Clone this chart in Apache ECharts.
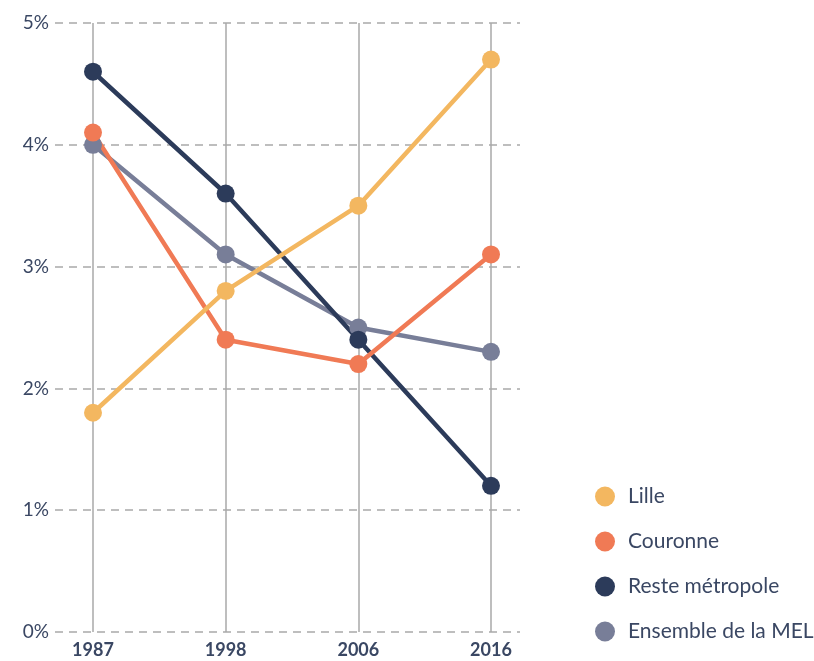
<!DOCTYPE html>
<html>
<head>
<meta charset="utf-8">
<script src="https://cdn.jsdelivr.net/npm/echarts@6/dist/echarts.min.js"></script>
<style>
  html, body { margin: 0; padding: 0; background: #fff; }
  #chart { width: 814px; height: 661px; }
</style>
</head>
<body>
<div id="chart"></div>
<script>
var years = ["1987", "1998", "2006", "2016"];
var lille = [1.8, 2.8, 3.5, 4.7];
var couronne = [4.1, 2.4, 2.2, 3.1];
var reste = [4.6, 3.6, 2.4, 1.2];
var ensemble = [4.0, 3.1, 2.5, 2.3];

var textColor = "#3a4763";
var gridColor = "#a9a9a9";

function line(name, data, color) {
  return {
    name: name,
    type: "line",
    xAxisIndex: 1,
    yAxisIndex: 1,
    data: data,
    symbol: "circle",
    symbolSize: 18,
    lineStyle: { color: color, width: 4.5 },
    itemStyle: { color: color },
    emphasis: { disabled: true },
    animation: false
  };
}

var myChart = echarts.init(document.getElementById("chart"));
var option = {
  textStyle: { fontFamily: "Lato" },
  legend: {
    orient: "vertical",
    left: 590,
    top: 481,
    itemWidth: 36,
    itemHeight: 20,
    itemGap: 24,
    icon: "circle",
    data: ["Lille", "Couronne", "Reste métropole", "Ensemble de la MEL"],
    textStyle: { color: textColor, fontSize: 21, fontFamily: "Lato" }
  },
  grid: [
    // horizontal dashed lines, wider than the data area
    { left: 55, right: 294, top: 23, bottom: 29 },
    // data area, first and last years at the edges
    { left: 93, right: 323, top: 23, bottom: 29 }
  ],
  xAxis: [
    { gridIndex: 0, type: "category", data: years, show: false },
    {
      gridIndex: 1,
      type: "category",
      data: years,
      boundaryGap: false,
      axisLine: { show: false },
      axisTick: { show: false },
      axisLabel: {
        color: textColor,
        fontSize: 18,
        fontWeight: "bold",
        margin: 9,
        fontFamily: "Lato"
      },
      splitLine: { show: true, lineStyle: { color: gridColor, width: 1.5 } }
    }
  ],
  yAxis: [
    {
      gridIndex: 0,
      type: "value",
      min: 0,
      max: 5,
      interval: 1,
      axisLine: { show: false },
      axisTick: { show: false },
      axisLabel: {
        color: textColor,
        fontSize: 19,
        margin: 6,
        fontFamily: "Lato",
        formatter: "{value}%"
      },
      splitLine: {
        show: true,
        lineStyle: { color: gridColor, width: 1.5, type: [8, 6] }
      }
    },
    {
      gridIndex: 1,
      type: "value",
      min: 0,
      max: 5,
      interval: 1,
      show: false,
      splitLine: { show: false }
    }
  ],
  series: [
    line("Ensemble de la MEL", ensemble, "#787e98"),
    line("Reste métropole", reste, "#2c3b5a"),
    line("Couronne", couronne, "#f07a55"),
    line("Lille", lille, "#f3b760")
  ]
};
myChart.setOption(option, true);
window.addEventListener("resize", function () {
  myChart.resize();
});
</script>
</body>
</html>
